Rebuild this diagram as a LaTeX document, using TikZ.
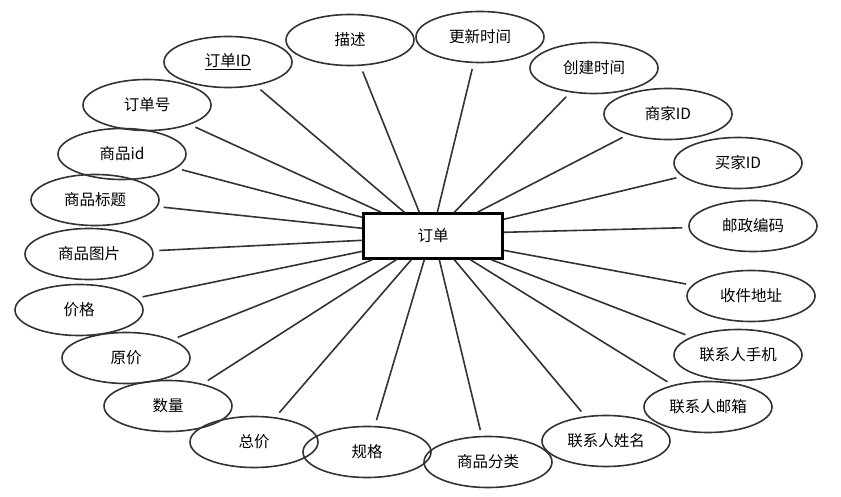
\documentclass[tikz,border=0pt]{standalone}
\usepackage{fontspec}
\setmainfont{Noto Sans CJK SC}
\usetikzlibrary{shapes.geometric}
\definecolor{edge}{HTML}{333333}
\tikzset{
  attr/.style={ellipse, draw=edge, line width=1.6pt, minimum width=128pt, minimum height=51pt, inner sep=0pt, font=\fontsize{15.5}{18}\selectfont},
  entity/.style={rectangle, draw=black, line width=2.4pt, fill=white, minimum width=139pt, minimum height=45pt, inner sep=0pt, font=\fontsize{15.5}{18}\selectfont},
  link/.style={draw=edge, line width=1.6pt, shorten <=6pt}
}
\begin{document}
\begin{tikzpicture}[x=1pt,y=-1pt]
\useasboundingbox (0,0) rectangle (841,497);
\node[entity] (box) at (433,236) {订单};
% attributes
\node[attr] (miaoshu) at (350,40) {描述};
\node[attr] (gengxin) at (480,37) {更新时间};
\node[attr] (chuangjian) at (594,68) {创建时间};
\node[attr] (shangjia) at (668,114) {商家ID};
\node[attr] (maijia) at (738,163) {买家ID};
\node[attr] (youzheng) at (753,226) {邮政编码};
\node[attr] (shoujian) at (751,296) {收件地址};
\node[attr] (shouji) at (738,355) {联系人手机};
\node[attr] (youxiang) at (708,407) {联系人邮箱};
\node[attr] (xingming) at (606,441) {联系人姓名};
\node[attr] (fenlei) at (488,462) {商品分类};
\node[attr] (guige) at (367,452) {规格};
\node[attr] (zongjia) at (254,442) {总价};
\node[attr] (shuliang) at (168,406) {数量};
\node[attr] (yuanjia) at (126,358) {原价};
\node[attr] (jiage) at (79,310) {价格};
\node[attr] (tupian) at (89,254) {商品图片};
\node[attr] (biaoti) at (95,200) {商品标题};
\node[attr] (spid) at (122,154) {商品id};
\node[attr] (ddh) at (147,105) {订单号};
\node[attr] (ddid) at (228,62) {\underline{订单ID}};
% connectors
\draw[link] (ddh) -- ([xshift=19pt]box.north west);
\draw[link] (ddid) -- ([xshift=42pt]box.north west);
\draw[link] (miaoshu) -- ([xshift=57pt]box.north west);
\draw[link] (gengxin) -- ([xshift=75pt]box.north west);
\draw[link] (chuangjian) -- ([xshift=92pt]box.north west);
\draw[link] (shangjia) -- ([xshift=115pt]box.north west);
\draw[link] (maijia) -- ([yshift=-7pt]box.north east);
\draw[link] (youzheng) -- ([yshift=-20pt]box.north east);
\draw[link] (shoujian) -- ([yshift=-38pt]box.north east);
\draw[link] (shouji) -- ([xshift=129pt]box.south west);
\draw[link] (youxiang) -- ([xshift=108pt]box.south west);
\draw[link] (xingming) -- ([xshift=92pt]box.south west);
\draw[link] (fenlei) -- ([xshift=77pt]box.south west);
\draw[link] (guige) -- ([xshift=62pt]box.south west);
\draw[link] (zongjia) -- ([xshift=49pt]box.south west);
\draw[link] (shuliang) -- ([xshift=34pt]box.south west);
\draw[link] (yuanjia) -- ([xshift=10pt]box.south west);
\draw[link] (jiage) -- ([yshift=-39pt]box.north west);
\draw[link] (tupian) -- ([yshift=-28pt]box.north west);
\draw[link] (biaoti) -- ([yshift=-16pt]box.north west);
\draw[link] (spid) -- ([yshift=-5pt]box.north west);
\end{tikzpicture}
\end{document}
